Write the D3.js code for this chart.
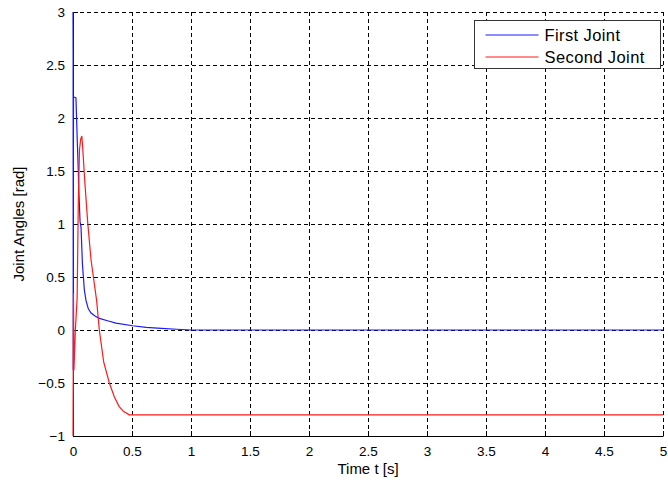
<!DOCTYPE html>
<html>
<head>
<meta charset="utf-8">
<script src="https://cdn.jsdelivr.net/npm/d3@7"></script>
<style>
  body { margin: 0; background: #fff; }
  text { font-family: "Liberation Sans", Arial, sans-serif; fill: #000; }
</style>
</head>
<body>
<div id="chart"></div>
<script>
// Chart size
var svgWidth = 668;
var svgHeight = 486;

// Data
var firstJointT = [0, 0.001, 0.002, 0.004, 0.025, 0.037, 0.045, 0.05, 0.06, 0.068, 0.08, 0.096, 0.11, 0.13, 0.153, 0.19, 0.223, 0.3, 0.364, 0.506, 0.62, 0.75, 0.88, 1.0, 5];
var firstJointV = [3, 2.62, -0.38, 2.2, 2.19, 1.76, 1.5, 1.3, 1.02, 0.97, 0.62, 0.38, 0.28, 0.2, 0.16, 0.13, 0.11, 0.085, 0.065, 0.04, 0.025, 0.015, 0.007, 0, 0];
var secondJointT = [0, 0.002, 0.004, 0.008, 0.02, 0.035, 0.045, 0.055, 0.065, 0.075, 0.082, 0.1, 0.125, 0.153, 0.2, 0.223, 0.26, 0.308, 0.35, 0.39, 0.43, 0.477, 5];
var secondJointV = [-1, -0.38, 0.35, -0.38, 0.0, 0.3, 1.2, 1.7, 1.8, 1.83, 1.72, 1.4, 1.01, 0.66, 0.28, 0, -0.3, -0.5, -0.63, -0.72, -0.77, -0.8, -0.8];
var seriesNames = ["First Joint", "Second Joint"];
var seriesColors = ["#1a1aff", "#ff1a1a"];
var xTicks = [0, 0.5, 1, 1.5, 2, 2.5, 3, 3.5, 4, 4.5, 5];
var yTicks = [-1, -0.5, 0, 0.5, 1, 1.5, 2, 2.5, 3];

var margin = { top: 12, right: 5, bottom: 50, left: 73 };
var chartWidth = svgWidth - margin.left - margin.right;
var chartHeight = svgHeight - margin.top - margin.bottom;

var svg = d3.select("#chart").append("svg")
    .attr("width", svgWidth)
    .attr("height", svgHeight);

var chartGroup = svg.append("g")
    .attr("transform", `translate(${margin.left}, ${margin.top})`);

// Scales
var xLinearScale = d3.scaleLinear().domain([0, 5]).range([0, chartWidth]);
var yLinearScale = d3.scaleLinear().domain([-1, 3]).range([chartHeight, 0]);

// Dashed grid
chartGroup.append("g").selectAll("line")
    .data(xTicks.slice(1))
    .enter().append("line")
    .attr("x1", d => Math.round(xLinearScale(d)) + 0.5)
    .attr("x2", d => Math.round(xLinearScale(d)) + 0.5)
    .attr("y1", 0).attr("y2", chartHeight)
    .attr("stroke", "#000").attr("stroke-dasharray", "4,3");
chartGroup.append("g").selectAll("line")
    .data(yTicks.slice(1))
    .enter().append("line")
    .attr("y1", d => Math.round(yLinearScale(d)) + 0.5)
    .attr("y2", d => Math.round(yLinearScale(d)) + 0.5)
    .attr("x1", 0).attr("x2", chartWidth)
    .attr("stroke", "#000").attr("stroke-dasharray", "4,3");

// Axes with inward ticks
var bottomAxis = d3.axisBottom(xLinearScale).tickValues(xTicks)
    .tickFormat(d3.format("")).tickSizeInner(-5).tickSizeOuter(0).tickPadding(10);
var leftAxis = d3.axisLeft(yLinearScale).tickValues(yTicks)
    .tickFormat(d3.format("")).tickSizeInner(-5).tickSizeOuter(0).tickPadding(8);

var xAxis = chartGroup.append("g")
    .attr("transform", `translate(0, ${chartHeight})`)
    .call(bottomAxis);
var yAxis = chartGroup.append("g").call(leftAxis);
[xAxis, yAxis].forEach(function(ax) {
    ax.selectAll("path").attr("stroke", "#000");
    ax.selectAll("line").attr("stroke", "#000");
    ax.selectAll("text").style("font-size", "13.5px")
        .style("font-family", "'Liberation Sans', Arial, sans-serif").attr("fill", "#000");
});

// Lines
var line = d3.line()
    .x(d => xLinearScale(d[0]))
    .y(d => yLinearScale(d[1]));
var series = [
    d3.zip(firstJointT, firstJointV),
    d3.zip(secondJointT, secondJointV)
];
chartGroup.selectAll(".series")
    .data(series)
    .enter().append("path")
    .attr("class", "series")
    .attr("d", line)
    .attr("fill", "none")
    .attr("stroke", (d, i) => seriesColors[i])
    .attr("stroke-width", 1.2);

// Axis labels
svg.append("text")
    .attr("x", margin.left + chartWidth / 2)
    .attr("y", 474)
    .attr("text-anchor", "middle")
    .style("font-size", "15px")
    .text("Time t [s]");
svg.append("text")
    .attr("transform", `translate(24, ${margin.top + chartHeight / 2}) rotate(-90)`)
    .attr("text-anchor", "middle")
    .style("font-size", "15px")
    .text("Joint Angles [rad]");

// Legend
var legend = svg.append("g").attr("transform", "translate(474.5, 20.5)");
legend.append("rect")
    .attr("width", 186).attr("height", 48)
    .attr("fill", "#fff").attr("stroke", "#333");
seriesNames.forEach(function(name, i) {
    var ly = 14.5 + i * 22;
    legend.append("line")
        .attr("x1", 11).attr("x2", 64)
        .attr("y1", ly).attr("y2", ly)
        .attr("stroke", seriesColors[i]).attr("stroke-width", 1.2);
    legend.append("text")
        .attr("x", 70).attr("y", ly + 6)
        .style("font-size", "16.5px")
        .style("letter-spacing", "0.4px")
        .text(name);
});
</script>
</body>
</html>
